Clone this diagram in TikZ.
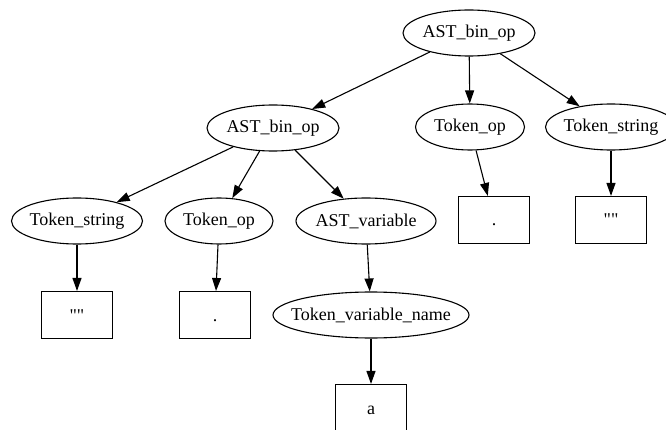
\documentclass[tikz,border=0pt]{standalone}
\usepackage{fontspec}
\setmainfont{Liberation Serif}
\usetikzlibrary{shapes.geometric,arrows.meta}

\newcommand{\nm}[1]{\makebox[0pt]{#1}}

\tikzset{
	oval/.style={draw, ellipse, minimum height=46, inner sep=0pt},
	leaf/.style={draw, rectangle, minimum width=71, minimum height=47, inner sep=0pt, text height=16pt, text depth=4pt},
	link/.style={-{Triangle[length=13pt,width=9pt]}},
}

\begin{document}
\begin{tikzpicture}[x=1pt, y=-1pt, line width=1.1pt, font=\fontsize{18}{20}\selectfont]
	\useasboundingbox (0,0) rectangle (666,430);

	% level 1 and 2
	\node[oval, minimum width=132] (root) at (469,33) {\nm{AST\_bin\_op}};
	\node[oval, minimum width=132] (bin) at (273,128) {\nm{AST\_bin\_op}};
	\node[oval, minimum width=109] (opR) at (470,127) {\nm{Token\_op}};
	\node[oval, minimum width=131] (strR) at (611,127) {\nm{Token\_string}};

	% level 3
	\node[oval, minimum width=131] (strL) at (77,221) {\nm{Token\_string}};
	\node[oval, minimum width=108] (opL) at (219,221) {\nm{Token\_op}};
	\node[oval, minimum width=140] (var) at (366,221) {\nm{AST\_variable}};
	\node[leaf] (dotR) at (494,220) {.};
	\node[leaf] (qR) at (611,220) {\textquotedbl\textquotedbl};

	% level 4 and 5
	\node[leaf] (qL) at (77,315) {\textquotedbl\textquotedbl};
	\node[leaf] (dotL) at (215,315) {.};
	\node[oval, minimum width=196] (vname) at (371,315) {\nm{Token\_variable\_name}};
	\node[leaf] (a) at (371,408) {a};

	\draw[link] (root) -- (bin);
	\draw[link] (root) -- (opR);
	\draw[link] (root) -- (strR);
	\draw[link] (bin) -- (strL);
	\draw[link] (bin) -- (opL);
	\draw[link] (bin) -- (var);
	\draw[link] (opR) -- (dotR);
	\draw[link] (strR) -- (qR);
	\draw[link] (strL) -- (qL);
	\draw[link] (opL) -- (dotL);
	\draw[link] (var) -- (vname);
	\draw[link] (vname) -- (a);
\end{tikzpicture}
\end{document}
